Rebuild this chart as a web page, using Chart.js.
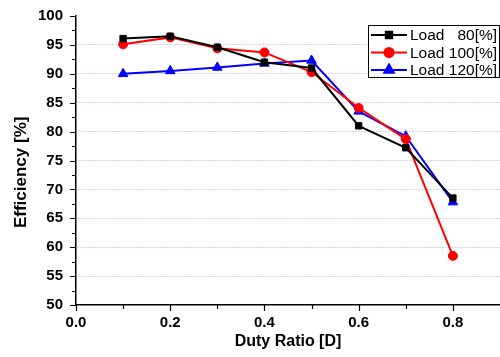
<!DOCTYPE html>
<html>
<head>
<meta charset="utf-8">
<script src="https://cdn.jsdelivr.net/npm/chart.js@4.4.0/dist/chart.umd.min.js"></script>
<style>
  html, body { margin: 0; padding: 0; background: #fff; }
  #wrap { width: 500px; height: 357px; position: relative; }
</style>
</head>
<body>
<div id="wrap"><canvas id="chart"></canvas></div>
<script>
// Efficiency vs duty ratio for three load levels
const dutyRatio = [0.1, 0.2, 0.3, 0.4, 0.5, 0.6, 0.7, 0.8];
const load80 = [96.1, 96.5, 94.6, 92.0, 91.0, 81.0, 77.2, 68.5];
const load100 = [95.1, 96.3, 94.4, 93.7, 90.3, 84.1, 78.7, 58.5];
const load120 = [90.0, 90.5, 91.1, 91.8, 92.3, 83.5, 79.2, 67.8];
const seriesNames = ['Load   80[%]', 'Load 100[%]', 'Load 120[%]'];
const xTickLabels = ['0.0', '0.2', '0.4', '0.6', '0.8'];

const colors = ['#000000', '#ff0000', '#0000ff'];
const markers = ['rect', 'circle', 'triangle'];
const markerSize = [4.5, 4.5, 5.5];

const toPoints = ys => ys.map((y, i) => ({ x: dutyRatio[i], y }));

const FONT = '"Liberation Sans", Arial, sans-serif';

// let the plot run to the right edge of the canvas, as in the original
const fullWidth = {
  id: 'fullWidth',
  afterLayout(chart) {
    const a = chart.chartArea;
    const x = chart.scales.x;
    a.right = chart.width;
    a.width = a.right - a.left;
    x.right = chart.width;
    x.width = x.right - x.left;
    x.configure();
  }
};

// minor + major tick marks drawn outward, like the original plot
const tickMarks = {
  id: 'tickMarks',
  afterDraw(chart) {
    const { ctx, chartArea: a, scales: { x, y } } = chart;
    ctx.save();
    ctx.strokeStyle = '#000';
    ctx.lineWidth = 1.2;
    ctx.beginPath();
    for (let v = 0; v <= 0.85; v += 0.1) {
      const px = Math.round(x.getPixelForValue(v)) + 0.5;
      const major = Math.round(v * 10) % 2 === 0;
      ctx.moveTo(px, a.bottom);
      ctx.lineTo(px, a.bottom + (major ? 6 : 4));
    }
    for (let v = 50; v <= 100; v += 2.5) {
      const py = Math.round(y.getPixelForValue(v)) + 0.5;
      const major = v % 5 === 0;
      ctx.moveTo(a.left, py);
      ctx.lineTo(a.left - (major ? 6 : 4), py);
    }
    ctx.stroke();
    ctx.restore();
  }
};

// legend with line + marker samples inside a box
const boxLegend = {
  id: 'boxLegend',
  afterDraw(chart) {
    const { ctx } = chart;
    const bx = 368, by = 25, bw = 132, bh = 53;
    ctx.save();
    ctx.fillStyle = '#fff';
    ctx.fillRect(bx, by, bw, bh);
    ctx.strokeStyle = '#000';
    ctx.lineWidth = 1;
    ctx.strokeRect(bx + 0.5, by + 0.5, bw - 1, bh - 1);
    ctx.font = '15.5px ' + FONT;
    ctx.textBaseline = 'middle';
    seriesNames.forEach((name, i) => {
      const cy = by + 10 + i * 17.5;
      ctx.strokeStyle = colors[i];
      ctx.lineWidth = 2;
      ctx.beginPath();
      ctx.moveTo(bx + 3, cy);
      ctx.lineTo(bx + 39, cy);
      ctx.stroke();
      ctx.fillStyle = colors[i];
      Chart.helpers.drawPoint(ctx, {
        pointStyle: markers[i], radius: markerSize[i], rotation: 0, borderWidth: 1
      }, bx + 21, cy);
      ctx.fillStyle = '#000';
      ctx.fillText(name, bx + 42, cy + 1);
    });
    ctx.restore();
  }
};

const datasets = [load80, load100, load120].map((ys, i) => ({
  label: seriesNames[i],
  data: toPoints(ys),
  borderColor: colors[i],
  backgroundColor: colors[i],
  borderWidth: 2,
  pointStyle: markers[i],
  pointRadius: markerSize[i],
  pointHoverRadius: markerSize[i],
  pointBorderWidth: 1,
  tension: 0,
}));

new Chart(document.getElementById('chart'), {
  type: 'line',
  data: { datasets },
  options: {
    responsive: true,
    maintainAspectRatio: false,
    animation: false,
    layout: { padding: { top: 16, right: 0, left: 0, bottom: 0 } },
    plugins: { legend: { display: false }, tooltip: { enabled: false } },
    scales: {
      x: {
        type: 'linear',
        min: 0, max: 0.9,
        afterFit: s => { s.height = 52; },
        ticks: {
          stepSize: 0.1,
          padding: 3,
          color: '#000',
          font: { family: FONT, size: 15, weight: 'bold' },
          maxRotation: 0,
          callback: v => {
            const k = Math.round(v * 10);
            return k % 2 === 0 && k <= 8 ? xTickLabels[k / 2] : '';
          }
        },
        grid: { drawOnChartArea: false, tickLength: 6, tickColor: 'rgba(0,0,0,0)' },
        border: { color: '#000', width: 1.5 },
        title: {
          display: true, text: 'Duty Ratio [D]', color: '#000',
          font: { family: FONT, size: 16, weight: 'bold' },
          padding: { top: 0, bottom: 6 }
        }
      },
      y: {
        min: 50, max: 100,
        afterFit: s => { s.width = 76; },
        ticks: {
          stepSize: 2.5,
          padding: 7,
          color: '#000',
          font: { family: FONT, size: 15, weight: 'bold' },
          callback: v => (v % 5 === 0 ? v : '')
        },
        grid: {
          tickLength: 6,
          tickColor: 'rgba(0,0,0,0)',
          lineWidth: 1,
          color: c => {
            const v = c.tick && c.tick.value;
            if (v === 50 || v === 100) return 'rgba(0,0,0,0)';
            return v % 5 === 0 ? '#a9a9d6' : '#b5dfae';
          }
        },
        border: { color: '#000', width: 1.5, dash: [1, 2] },
        title: {
          display: true, text: 'Efficiency [%]     ', color: '#000',
          font: { family: FONT, size: 17, weight: 'bold' },
          padding: { top: 11, bottom: 0 }
        }
      }
    }
  },
  plugins: [fullWidth, tickMarks, boxLegend]
});
</script>
</body>
</html>
